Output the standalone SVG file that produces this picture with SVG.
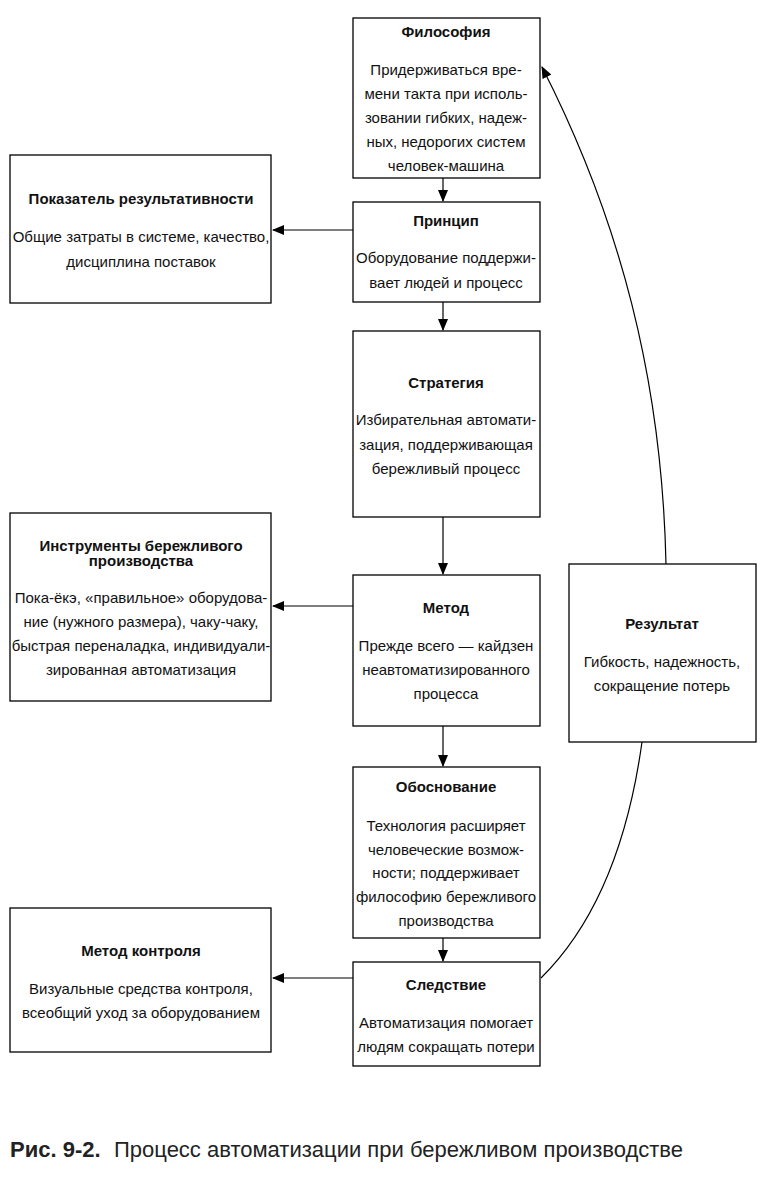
<svg xmlns="http://www.w3.org/2000/svg" width="765" height="1183" viewBox="0 0 765 1183">
<defs>
<marker id="ah" markerWidth="12" markerHeight="10" refX="11" refY="5" orient="auto" markerUnits="userSpaceOnUse">
<path d="M0,0 L12,5 L0,10 Z" fill="#000"/>
</marker>
<style>
.box{fill:#fff;stroke:#000;stroke-width:1.3}
.t{font-family:"Liberation Sans",Arial,sans-serif;font-size:15px;fill:#111;text-anchor:middle}
.b{font-weight:bold}
.c{fill:none;stroke:#000;stroke-width:1.2}
.cap{font-family:"Liberation Sans",Arial,sans-serif;font-size:22px;fill:#222}
</style>
</defs>
<rect width="765" height="1183" fill="#fff"/>
<g id="connectors">
<line class="c" x1="443" y1="178" x2="443" y2="201" marker-end="url(#ah)"/>
<line class="c" x1="443" y1="302" x2="443" y2="330" marker-end="url(#ah)"/>
<line class="c" x1="443" y1="517" x2="443" y2="574" marker-end="url(#ah)"/>
<line class="c" x1="443" y1="726" x2="443" y2="766" marker-end="url(#ah)"/>
<line class="c" x1="443" y1="938" x2="443" y2="961" marker-end="url(#ah)"/>
<line class="c" x1="353" y1="230" x2="273" y2="230" marker-end="url(#ah)"/>
<line class="c" x1="353" y1="606" x2="273" y2="606" marker-end="url(#ah)"/>
<line class="c" x1="353" y1="978" x2="273" y2="978" marker-end="url(#ah)"/>
<path class="c" d="M541,978 Q620,900 642,742"/>
<path class="c" d="M666,564 C662,380 620,220 542,67" marker-end="url(#ah)"/>
</g>
<g id="filosofiya">
<rect class="box" x="353" y="18" width="187" height="160"/>
<text class="t b" x="446" y="37">Философия</text>
<text class="t" x="446" y="75">Придерживаться вре-</text>
<text class="t" x="446" y="99">мени такта при исполь-</text>
<text class="t" x="446" y="123">зовании гибких, надеж-</text>
<text class="t" x="446" y="147">ных, недорогих систем</text>
<text class="t" x="446" y="171">человек-машина</text>
</g>
<g id="princip">
<rect class="box" x="353" y="202" width="187" height="100"/>
<text class="t b" x="446" y="226">Принцип</text>
<text class="t" x="446" y="263">Оборудование поддержи-</text>
<text class="t" x="446" y="288">вает людей и процесс</text>
</g>
<g id="pokazatel">
<rect class="box" x="10" y="155" width="261" height="148"/>
<text class="t b" x="141" y="204">Показатель результативности</text>
<text class="t" x="141" y="242">Общие затраты в системе, качество,</text>
<text class="t" x="141" y="267">дисциплина поставок</text>
</g>
<g id="strategiya">
<rect class="box" x="353" y="331" width="187" height="186"/>
<text class="t b" x="446" y="388">Стратегия</text>
<text class="t" x="446" y="425">Избирательная автомати-</text>
<text class="t" x="446" y="450">зация, поддерживающая</text>
<text class="t" x="446" y="474">бережливый процесс</text>
</g>
<g id="instrumenty">
<rect class="box" x="10" y="513" width="261" height="188"/>
<text class="t b" x="141" y="551">Инструменты бережливого</text>
<text class="t b" x="141" y="566">производства</text>
<text class="t" x="141" y="603">Пока-ёкэ, «правильное» оборудова-</text>
<text class="t" x="141" y="627">ние (нужного размера), чаку-чаку,</text>
<text class="t" x="141" y="651">быстрая переналадка, индивидуали-</text>
<text class="t" x="141" y="675">зированная автоматизация</text>
</g>
<g id="metod">
<rect class="box" x="353" y="575" width="187" height="151"/>
<text class="t b" x="446" y="613">Метод</text>
<text class="t" x="446" y="651">Прежде всего — кайдзен</text>
<text class="t" x="446" y="675">неавтоматизированного</text>
<text class="t" x="446" y="699">процесса</text>
</g>
<g id="rezultat">
<rect class="box" x="569" y="564" width="187" height="178"/>
<text class="t b" x="662" y="629">Результат</text>
<text class="t" x="662" y="667">Гибкость, надежность,</text>
<text class="t" x="662" y="691">сокращение потерь</text>
</g>
<g id="obosnovanie">
<rect class="box" x="353" y="767" width="187" height="171"/>
<text class="t b" x="446" y="792">Обоснование</text>
<text class="t" x="446" y="831">Технология расширяет</text>
<text class="t" x="446" y="855">человеческие возмож-</text>
<text class="t" x="446" y="878">ности; поддерживает</text>
<text class="t" x="446" y="902">философию бережливого</text>
<text class="t" x="446" y="926">производства</text>
</g>
<g id="sledstvie">
<rect class="box" x="353" y="962" width="187" height="104"/>
<text class="t b" x="446" y="990">Следствие</text>
<text class="t" x="446" y="1028">Автоматизация помогает</text>
<text class="t" x="446" y="1052">людям сокращать потери</text>
</g>
<g id="metod-kontrolya">
<rect class="box" x="10" y="908" width="261" height="144"/>
<text class="t b" x="141" y="956">Метод контроля</text>
<text class="t" x="141" y="994">Визуальные средства контроля,</text>
<text class="t" x="141" y="1018">всеобщий уход за оборудованием</text>
</g>
<g id="caption">
<text class="cap" x="10" y="1157" font-weight="bold">Рис. 9-2.</text>
<text class="cap" x="114" y="1157">Процесс автоматизации при бережливом производстве</text>
</g>
</svg>
